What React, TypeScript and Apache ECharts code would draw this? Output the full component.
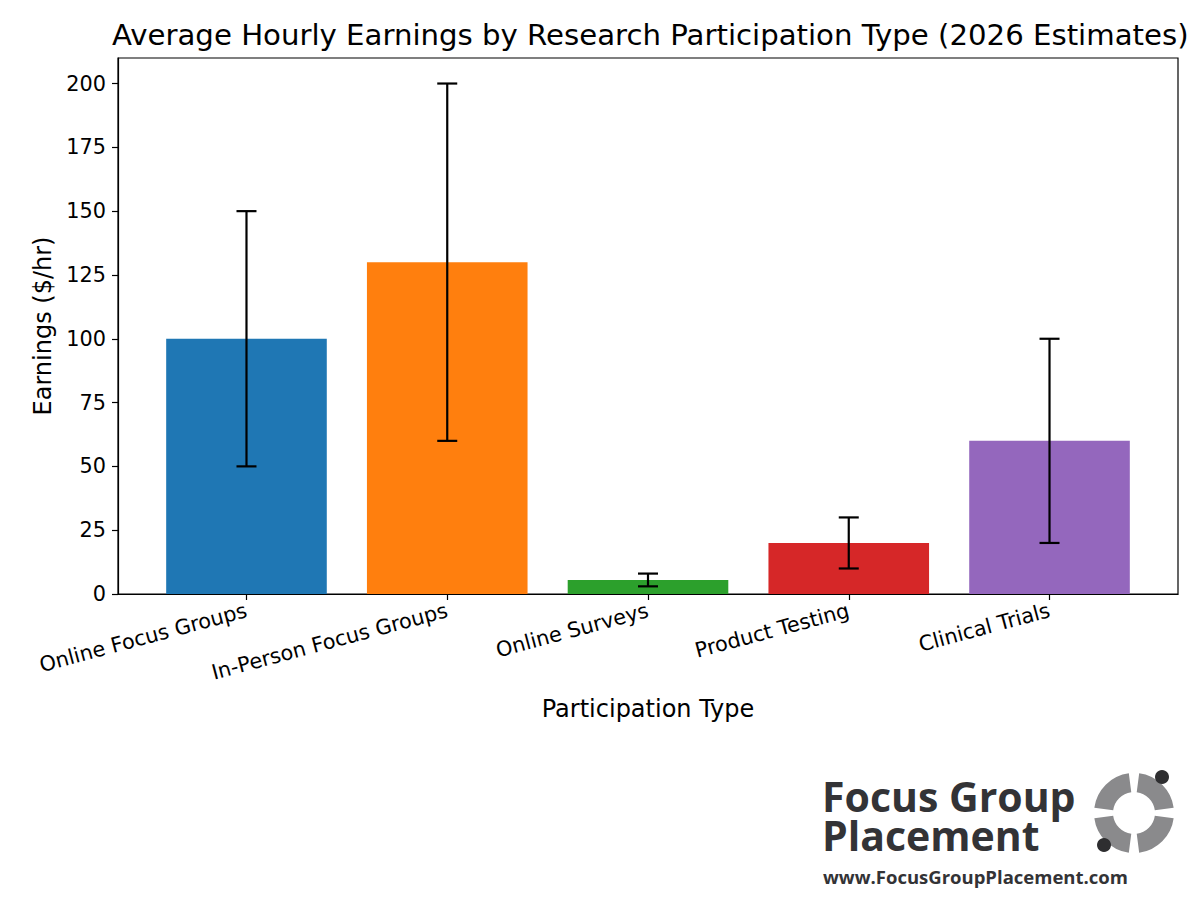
import React, { useEffect, useRef } from "react";
import * as echarts from "echarts";

const categories = [
  "Online Focus Groups",
  "In-Person Focus Groups",
  "Online Surveys",
  "Product Testing",
  "Clinical Trials",
];
const earnings = [100, 130, 5.5, 20, 60];
const errors = [50, 70, 2.5, 10, 40];
const barColors = ["#1f77b4", "#ff7f0e", "#2ca02c", "#d62728", "#9467bd"];
const yTicks = [0, 25, 50, 75, 100, 125, 150, 175, 200];

export default function App() {
  const ref = useRef<HTMLDivElement>(null);
  useEffect(() => {
    const chart = echarts.init(ref.current!, null, { renderer: "svg" });
    const font = "DejaVu Sans";
    const data = categories.map((c, i) => [i, earnings[i], errors[i]]);
    const cx = 1134, cy = 813;
    const gap = 0.13;
    const sectors = [0, 1, 2, 3].map((k) => ({
      type: "sector",
      shape: {
        cx, cy, r: 40, r0: 21,
        startAngle: (k * Math.PI) / 2 + gap,
        endAngle: ((k + 1) * Math.PI) / 2 - gap,
      },
      style: { fill: "#8a8a8c" },
    }));
    chart.setOption({
      animation: false,
      backgroundColor: "#ffffff",
      textStyle: { fontFamily: font },
      title: {
        text: "Average Hourly Earnings by Research Participation Type (2026 Estimates)",
        left: 107,
        top: 15,
        textStyle: { fontFamily: font, fontSize: 29.2, fontWeight: "normal", color: "#000" },
      },
      grid: {
        left: 118, right: 22, top: 58, bottom: 317,
        show: true, borderColor: "#000", borderWidth: 1.2, backgroundColor: "transparent",
      },
      xAxis: {
        type: "value",
        min: -0.64,
        max: 4.64,
        name: "Participation Type",
        nameLocation: "middle",
        nameGap: 103,
        nameTextStyle: { fontFamily: font, fontSize: 24, color: "#000" },
        splitLine: { show: false },
        axisLine: { show: true, onZero: false, lineStyle: { color: "#000", width: 1.2 } },
        axisTick: { show: true, customValues: [0, 1, 2, 3, 4], length: 6, lineStyle: { color: "#000", width: 1.2 } },
        axisLabel: {
          customValues: [0, 1, 2, 3, 4],
          formatter: (v: number) => categories[Math.round(v)] ?? "",
          rotate: 15,
          margin: 16,
          fontFamily: font,
          fontSize: 20.8,
          color: "#000",
        },
      },
      yAxis: {
        type: "value",
        min: 0,
        max: 210,
        name: "Earnings ($/hr)",
        nameLocation: "middle",
        nameGap: 62,
        nameTextStyle: { fontFamily: font, fontSize: 24, color: "#000" },
        splitLine: { show: false },
        axisLine: { show: true, onZero: false, lineStyle: { color: "#000", width: 1.2 } },
        axisTick: { show: true, customValues: yTicks, length: 6, lineStyle: { color: "#000", width: 1.2 } },
        axisLabel: { customValues: yTicks, margin: 12, fontFamily: font, fontSize: 20.8, color: "#000" },
      },
      series: [
        {
          type: "custom",
          data,
          encode: { x: 0, y: 1 },
          renderItem: (params: any, api: any) => {
            const x = api.value(0), v = api.value(1);
            const p0 = api.coord([x - 0.4, 0]);
            const p1 = api.coord([x + 0.4, v]);
            return {
              type: "rect",
              shape: { x: p0[0], y: p1[1], width: p1[0] - p0[0], height: p0[1] - p1[1] },
              style: { fill: barColors[params.dataIndex] },
            };
          },
          z: 2,
        },
        {
          type: "custom",
          data,
          encode: { x: 0, y: 1 },
          renderItem: (params: any, api: any) => {
            const x = api.value(0), v = api.value(1), e = api.value(2);
            const top = api.coord([x, v + e]);
            const bot = api.coord([x, v - e]);
            const cap = 10;
            const ls = { stroke: "#000", lineWidth: 2.2 };
            return {
              type: "group",
              children: [
                { type: "line", shape: { x1: top[0], y1: top[1], x2: bot[0], y2: bot[1] }, style: ls },
                { type: "line", shape: { x1: top[0] - cap, y1: top[1], x2: top[0] + cap, y2: top[1] }, style: ls },
                { type: "line", shape: { x1: bot[0] - cap, y1: bot[1], x2: bot[0] + cap, y2: bot[1] }, style: ls },
              ],
            };
          },
          z: 3,
        },
      ],
      graphic: [
        {
          type: "text",
          left: 822,
          top: 775,
          style: { text: "Focus Group\nPlacement", font: "bold 41px 'Open Sans'", lineHeight: 39, fill: "#333336" },
        },
        {
          type: "text",
          left: 823,
          top: 867,
          style: { text: "www.FocusGroupPlacement.com", font: "bold 18.5px 'Open Sans'", fill: "#333336" },
        },
        ...sectors,
        { type: "circle", shape: { cx: 1162, cy: 777, r: 7 }, style: { fill: "#2e2e30" } },
        { type: "circle", shape: { cx: 1104, cy: 845, r: 7 }, style: { fill: "#2e2e30" } },
      ],
    });
    return () => chart.dispose();
  }, []);
  return (
    <div
      ref={ref}
      style={{ position: "fixed", left: 0, top: 0, width: 1200, height: 911 }}
    />
  );
}
